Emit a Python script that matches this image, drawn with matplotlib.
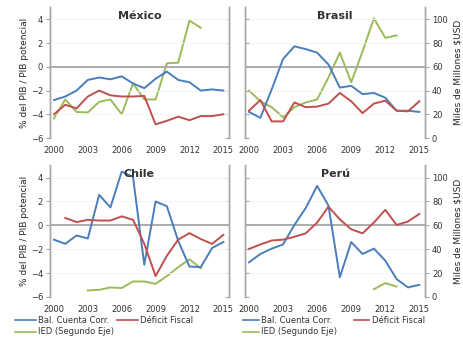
import matplotlib
matplotlib.use("Agg")
import matplotlib.pyplot as plt
from matplotlib.lines import Line2D

years = list(range(2000, 2016))

# México
mex_cuenta = [-2.8, -2.5, -2.0, -1.1, -0.9, -1.05, -0.8, -1.4, -1.8, -1.0, -0.4, -1.1, -1.3, -2.0, -1.9, -2.0]
mex_fiscal = [-4.0, -3.2, -3.5, -2.5, -2.0, -2.4, -2.5, -2.5, -2.45, -4.85, -4.55, -4.2, -4.5, -4.15, -4.15, -4.0]
mex_ied = [16.5, 32.5, 22, 21.5, 30.5, 32.5, 20, 46, 32.5, 32.5, 63, 63.5, 99, 93, None, None]

# Brasil
bra_cuenta = [-3.8, -4.3, -1.9, 0.66, 1.73, 1.5, 1.2, 0.2, -1.75, -1.6, -2.3, -2.2, -2.6, -3.7, -3.7, -3.8]
bra_fiscal = [-3.7, -2.8, -4.6, -4.6, -3.0, -3.4, -3.35, -3.1, -2.2, -2.9, -3.9, -3.1, -2.85, -3.7, -3.75, -2.9]
bra_ied = [40, 31, 26, 17.5, 26, 30, 32.5, 51, 72, 47, 73, 101, 84.5, 86.5, None, None]

# Chile
chi_cuenta = [-1.2, -1.55, -0.85, -1.1, 2.55, 1.5, 4.5, 4.05, -3.3, 2.0, 1.6, -1.3, -3.45, -3.5, -1.9, -1.4]
chi_fiscal = [None, 0.62, 0.27, 0.46, 0.4, 0.4, 0.75, 0.46, -1.55, -4.25, -2.55, -1.2, -0.65, -1.15, -1.55, -0.8]
chi_ied = [None, None, None, 5.5, 6, 8, 7.5, 13, 13, 11, 17.5, 25, 31.5, 24, None, None]

# Perú
per_cuenta = [-3.1, -2.4, -1.95, -1.6, 0.03, 1.45, 3.3, 1.65, -4.35, -1.4, -2.4, -1.95, -2.95, -4.5, -5.2, -4.98]
per_fiscal = [-1.98, -1.6, -1.27, -1.2, -0.96, -0.67, 0.23, 1.56, 0.5, -0.33, -0.67, 0.23, 1.3, 0.03, 0.32, 0.95]
per_ied = [None, None, None, None, None, None, None, None, None, None, None, 6.5, 11.6, 8.8, None, None]

titles = ["México", "Brasil", "Chile", "Perú"]
series = [
    (mex_cuenta, mex_fiscal, mex_ied),
    (bra_cuenta, bra_fiscal, bra_ied),
    (chi_cuenta, chi_fiscal, chi_ied),
    (per_cuenta, per_fiscal, per_ied),
]
xticks = [2000, 2003, 2006, 2009, 2012, 2015]
left_ticks = [-6, -4, -2, 0, 2, 4]
right_ticks = [0, 20, 40, 60, 80, 100]
labels = ["Bal. Cuenta Corr.", "Déficit Fiscal", "IED (Segundo Eje)"]

BLUE = "#4a7ebb"
RED = "#c0504d"
GREEN = "#9bbb59"
GRAY = "#a6a6a6"
TXT = "#333333"

W, H = 463, 339
fig = plt.figure(figsize=(W / 100, H / 100), dpi=100)
plt.rcParams["font.family"] = ["DejaVu Sans"]

boxes = [
    (50, 7, 229, 138),
    (245, 7, 425, 138),
    (50, 165, 229, 297),
    (245, 165, 425, 297),
]

def nn(vals):
    xs, ys = [], []
    for x, v in zip(years, vals):
        xs.append(x)
        ys.append(float("nan") if v is None else v)
    return xs, ys

for i, (box, title, (cu, fi, ied)) in enumerate(zip(boxes, titles, series)):
    x0, y0, x1, y1 = box
    ax = fig.add_axes([x0 / W, 1 - y1 / H, (x1 - x0) / W, (y1 - y0) / H])
    ax2 = ax.twinx()
    ax.set_xlim(1999.65, 2015.5)
    ax.set_ylim(-6, 5.05)
    ax2.set_ylim(0, 110.5)
    for a in (ax, ax2):
        for s in ("top", "bottom"):
            a.spines[s].set_visible(False)
        for s in ("left", "right"):
            a.spines[s].set_color(GRAY)
            a.spines[s].set_linewidth(1.0)
        a.set_facecolor("none")
    ax.set_zorder(ax2.get_zorder() + 1)
    ax.patch.set_visible(False)
    for t in left_ticks[1:]:
        ax.axhline(t, color="#f2f2f2", lw=0.6, zorder=0)
    ax.axhline(0, color=GRAY, lw=1.3, zorder=1)
    xs, ys = nn(cu)
    ax.plot(xs, ys, color=BLUE, lw=1.4, zorder=3)
    xs, ys = nn(fi)
    ax.plot(xs, ys, color=RED, lw=1.4, zorder=3)
    xs, ys = nn(ied)
    ax2.plot(xs, ys, color=GREEN, lw=1.4, zorder=3)
    ax.set_xticks(xticks)
    ax.set_xticklabels([str(x) for x in xticks], fontsize=6, color=TXT)
    ax.tick_params(axis="x", length=0, pad=6)
    ax.set_yticks(left_ticks)
    ax2.set_yticks(right_ticks)
    if i % 2 == 0:
        ax.tick_params(axis="y", direction="out", length=3, color=GRAY, labelsize=6, labelcolor=TXT, pad=2)
        ax2.tick_params(axis="y", direction="in", length=3, color=GRAY, labelright=False)
        ax.set_ylabel("% del PIB / PIB potencial", fontsize=6.5, color="#262626", labelpad=1)
    else:
        ax.tick_params(axis="y", direction="in", length=3, color=GRAY, labelleft=False)
        ax2.tick_params(axis="y", direction="out", length=3, color=GRAY, labelsize=6, labelcolor=TXT, pad=2)
        ax2.set_ylabel("Miles de Millones $USD", fontsize=6.5, color="#262626", labelpad=4)
    ax.text(0.5, 0.97, title, transform=ax.transAxes, ha="center", va="top",
            fontsize=8, fontweight="bold", color=TXT)

handles = [Line2D([], [], color=BLUE, lw=1.2),
           Line2D([], [], color=GREEN, lw=1.2),
           Line2D([], [], color=RED, lw=1.2)]
hl = [labels[0], labels[2], labels[1]]
fig.legend(handles, hl, ncol=2, loc="upper left", bbox_to_anchor=(15 / W, 1 - 316 / H),
           frameon=False, fontsize=6, handlelength=2.5, handletextpad=0.25,
           columnspacing=0.4, labelspacing=0.3, borderpad=0, borderaxespad=0,
           labelcolor=TXT)
fig.legend(handles, hl, ncol=2, loc="upper left", bbox_to_anchor=(243 / W, 1 - 316 / H),
           frameon=False, fontsize=6, handlelength=1.9, handletextpad=0.25,
           columnspacing=2.0, labelspacing=0.3, borderpad=0, borderaxespad=0,
           labelcolor=TXT)

fig.savefig("out.png", dpi=100)
